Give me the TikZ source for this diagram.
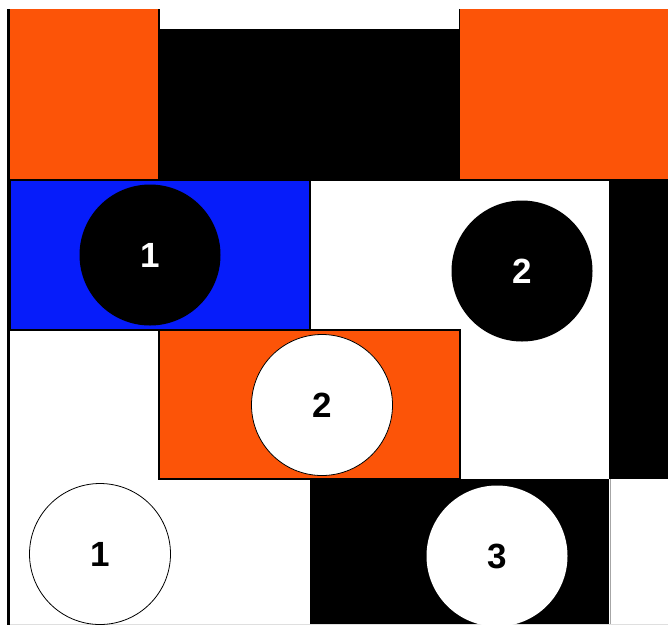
\documentclass[tikz,border=0pt]{standalone}
\usepackage{fontspec}
\setmainfont{Liberation Sans}
\definecolor{tileorange}{RGB}{252,84,8}
\definecolor{tileblue}{RGB}{6,28,250}
\tikzset{
  disc/.style={circle,minimum size=141pt,inner sep=0pt,
    font=\bfseries\fontsize{35}{35}\selectfont},
  darkdisc/.style={disc,fill=black,text=white},
  lightdisc/.style={disc,fill=white,text=black,draw=black,line width=0.8pt}
}
\begin{document}
\begin{tikzpicture}[x=1pt,y=-1pt]

\useasboundingbox[fill=white] (0,0) rectangle (668,625);

%------------------------------------------------
% TOP ROW
%------------------------------------------------
\fill[tileorange] (10,9) rectangle (159,180);
\draw[line width=1.2pt,fill=white] (159,9) -- (159,30) -- (460,30) -- (460,9);
\fill[black] (159,30) rectangle (460,180);
\fill[tileorange] (460,9) rectangle (668,180);
\draw[line width=1.2pt] (159,9)--(159,180);

%------------------------------------------------
% SECOND ROW
%------------------------------------------------
\draw[fill=tileblue,line width=1.5pt] (10,180) rectangle (310,330);
\fill[black] (609,180) rectangle (668,479);
\draw[line width=1.2pt] (10,180)--(668,180);

%------------------------------------------------
% THIRD ROW
%------------------------------------------------
\draw[fill=tileorange,line width=1.8pt] (159,330) rectangle (460,479);

%------------------------------------------------
% BOTTOM ROW
%------------------------------------------------
\fill[black] (310,479) rectangle (609,625);
\draw[gray!70,line width=0.8pt] (610,479)--(610,625);
\draw[gray!25,line width=0.8pt] (10,624)--(668,624);

% left edge
\draw[line width=3pt] (8.5,9)--(8.5,625);

% Discs
\node[darkdisc] (dark1) at (150,255) {1};
\node[darkdisc] (dark2) at (522,271) {2};
\node[lightdisc] (light2) at (322,405) {2};
\node[lightdisc] (light1) at (100,554) {1};
\node[lightdisc,draw=none] (light3) at (497,556) {3};

\end{tikzpicture}
\end{document}
